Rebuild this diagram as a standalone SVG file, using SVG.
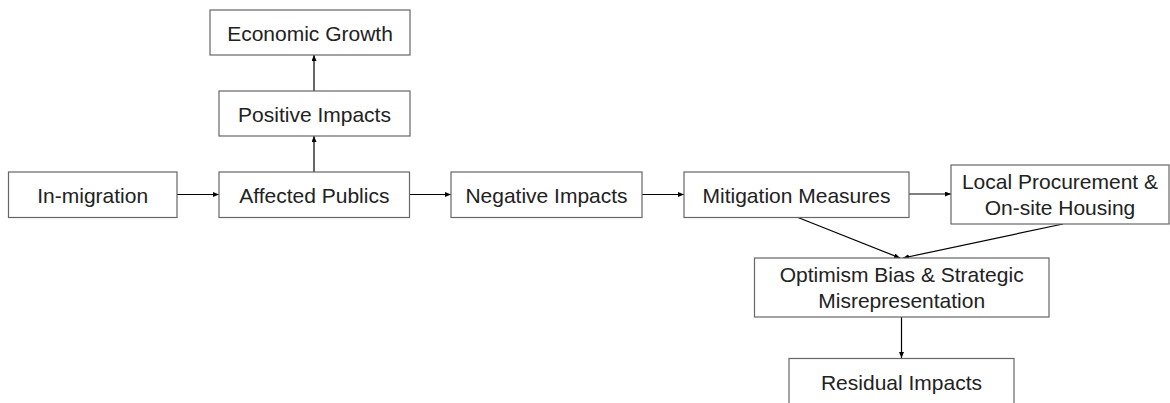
<svg xmlns="http://www.w3.org/2000/svg" width="1170" height="403" viewBox="0 0 1170 403">
<style>
.box{fill:#fff;stroke:#666;stroke-width:1.2}
.lbl{font-family:"Liberation Sans",Arial,sans-serif;font-size:21px;fill:#222;text-anchor:middle}
.con{stroke:#000;stroke-width:1.2;fill:none;marker-end:url(#ah)}
</style>
<defs>
<marker id="ah" markerWidth="6" markerHeight="5" refX="6" refY="2.5" orient="auto" markerUnits="userSpaceOnUse">
<path d="M0,0 L6,2.5 L0,5 Z" fill="#000"/>
</marker>
</defs>
<rect width="1170" height="403" fill="#fff"/>
<g id="connectors">
<line class="con" x1="177" y1="194.5" x2="219" y2="194.5"/>
<line class="con" x1="410" y1="194.5" x2="451" y2="194.5"/>
<line class="con" x1="642" y1="194.5" x2="684" y2="194.5"/>
<line class="con" x1="909" y1="194" x2="951" y2="194"/>
<line class="con" x1="314" y1="172" x2="314" y2="136"/>
<line class="con" x1="314" y1="91" x2="314" y2="55"/>
<line class="con" x1="798" y1="217.5" x2="900" y2="258"/>
<line class="con" x1="1063" y1="224" x2="903" y2="258"/>
<line class="con" x1="901.5" y1="317" x2="901.5" y2="358"/>
</g>
<g id="economic-growth"><rect class="box" x="210" y="10" width="200" height="45"/><text class="lbl" x="310" y="40.5">Economic Growth</text></g>
<g id="positive-impacts"><rect class="box" x="219" y="91" width="191" height="45"/><text class="lbl" x="314.5" y="121.5">Positive Impacts</text></g>
<g id="in-migration"><rect class="box" x="8.5" y="172" width="168.5" height="45.5"/><text class="lbl" x="92.7" y="202.5">In-migration</text></g>
<g id="affected-publics"><rect class="box" x="219" y="172" width="190.5" height="45.5"/><text class="lbl" x="314.3" y="202.5">Affected Publics</text></g>
<g id="negative-impacts"><rect class="box" x="451" y="172" width="191" height="45.5"/><text class="lbl" x="546.5" y="202.5">Negative Impacts</text></g>
<g id="mitigation-measures"><rect class="box" x="684" y="172" width="225" height="45.5"/><text class="lbl" x="796.5" y="202.5">Mitigation Measures</text></g>
<g id="local-procurement"><rect class="box" x="951" y="165" width="218" height="59"/><text class="lbl" x="1060" y="188.5">Local Procurement &amp;</text><text class="lbl" x="1060" y="215">On-site Housing</text></g>
<g id="optimism-bias"><rect class="box" x="754.5" y="258" width="294.5" height="59"/><text class="lbl" x="901.7" y="281.5">Optimism Bias &amp; Strategic</text><text class="lbl" x="901.7" y="308">Misrepresentation</text></g>
<g id="residual-impacts"><rect class="box" x="789" y="358.5" width="225" height="46"/><text class="lbl" x="901.5" y="389.5">Residual Impacts</text></g>
</svg>
